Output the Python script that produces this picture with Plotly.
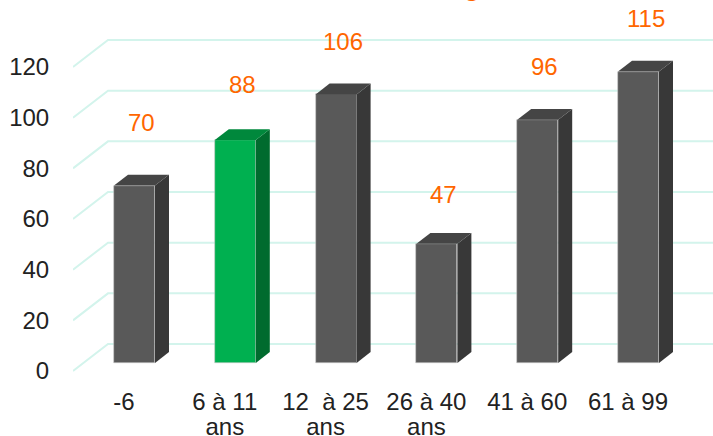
import plotly.graph_objects as go

# ---- data ----
categories = ["-6", "6 à 11 ans", "12\u00a0 à 25 ans", "26 à 40 ans", "41 à 60", "61 à 99"]
values = [70, 88, 106, 47, 96, 115]
highlight = [False, True, False, False, False, False]
y_ticks = [0, 20, 40, 60, 80, 100, 120]

# ---- styles ----
FONT = "Liberation Sans, Arial, sans-serif"
GRID = "#D3F4EC"
ORANGE = "#FF6600"
TEXT = "#222222"
GRAY = dict(front="#595959", side="#383838", top="#454545")
GREEN = dict(front="#00B050", side="#006B2E", top="#00883C")
label_nudge_px = [10, 2, 0, -4, 0, 0]   # manual data-label nudges as in the original

# 3D projection in axis units: depth 0 = front plane, 1 = back wall
PX_PER_CAT = 100.8
PX_PER_VAL = 2.533
SX = 35 / PX_PER_CAT          # x shift for full depth
SY = 27 / PX_PER_VAL          # value shift for full depth
BAR_W = 41 / PX_PER_CAT
D0, D1 = 0.3, 0.7             # bar depth span

XMIN, XMAX = -51 / PX_PER_CAT, 589 / PX_PER_CAT
YMIN, YMAX = -9 / PX_PER_VAL, 371 / PX_PER_VAL

# split two-line category labels ("xx à yy ans")
line1 = [c[:-4] if c.endswith(" ans") else c for c in categories]
line2 = ["ans" if c.endswith(" ans") else "" for c in categories]

fig = go.Figure()

# grid: diagonal on the left + horizontal line on the back wall (below traces)
shapes = []
for t in y_ticks:
    shapes.append(dict(type="path", xref="x", yref="y", layer="below",
                       path=f"M {XMIN},{t} L {XMIN + SX},{t + SY} L {XMAX},{t + SY}",
                       line=dict(color=GRID, width=2)))

# bars
for i, (v, h) in enumerate(zip(values, highlight)):
    c = GREEN if h else GRAY
    cx = i + SX * D0
    xl, xr = cx - BAR_W / 2, cx + BAR_W / 2
    dx, dy = SX * (D1 - D0), SY * (D1 - D0)
    b0 = SY * D0
    # side face
    fig.add_trace(go.Scatter(
        x=[xr, xr, xr + dx, xr + dx, xr], y=[b0, v + b0, v + b0 + dy, b0 + dy, b0],
        mode="lines", fill="toself", fillcolor=c["side"], line=dict(width=0),
        hoverinfo="skip", showlegend=False))
    # top face
    fig.add_trace(go.Scatter(
        x=[xl, xr, xr + dx, xl + dx, xl], y=[v + b0, v + b0, v + b0 + dy, v + b0 + dy, v + b0],
        mode="lines", fill="toself", fillcolor=c["top"], line=dict(width=0),
        hoverinfo="skip", showlegend=False))

# front faces
fig.add_trace(go.Bar(
    x=[i + SX * D0 for i in range(len(values))], y=values, base=SY * D0,
    width=BAR_W,
    marker=dict(color=[GREEN["front"] if h else GRAY["front"] for h in highlight],
                line=dict(color="#C8C8C8", width=0.6)),
    showlegend=False))

# second x axis for the "ans" line
fig.add_trace(go.Scatter(x=[XMIN], y=[0], xaxis="x2", mode="markers",
                         marker=dict(opacity=0), hoverinfo="skip", showlegend=False))

# data labels
for i, v in enumerate(values):
    fig.add_annotation(x=i + SX * 0.5, y=v + SY * 0.5, text=str(v), showarrow=False,
                       yshift=48 + label_nudge_px[i],
                       font=dict(family=FONT, size=24, color=ORANGE))

# partially visible title (cut off at top of the image)
fig.add_annotation(xref="paper", yref="paper", x=(496 - 73) / 640, y=1.0,
                   xanchor="right", yanchor="bottom", yshift=-4,
                   text="<b>Tranches d'âge</b>", showarrow=False,
                   font=dict(family=FONT, size=26, color=ORANGE))

axis_common = dict(range=[XMIN, XMAX], tickmode="array",
                   tickvals=list(range(len(categories))),
                   showgrid=False, zeroline=False, showline=False,
                   ticks="outside", tickcolor="rgba(0,0,0,0)", automargin=False,
                   tickfont=dict(family=FONT, size=24, color=TEXT))

fig.update_layout(
    width=713, height=436,
    margin=dict(l=73, r=0, t=0, b=56),
    paper_bgcolor="white", plot_bgcolor="white",
    font=dict(family=FONT, size=24, color=TEXT),
    bargap=0,
    shapes=shapes,
    xaxis=dict(**axis_common, ticktext=line1, ticklen=0),
    xaxis2=dict(**axis_common, ticktext=line2, ticklen=25, overlaying="x",
                side="bottom", anchor="y"),
    yaxis=dict(range=[YMIN, YMAX], tickmode="array", tickvals=y_ticks,
               showgrid=False, zeroline=False, showline=False, automargin=False,
               ticks="outside", ticklen=18, tickcolor="rgba(0,0,0,0)",
               tickfont=dict(family=FONT, size=24, color=TEXT)),
)

fig.write_html("out.html", config={"displayModeBar": False},
               post_script="document.body.style.margin='0';document.body.style.overflow='hidden';")
